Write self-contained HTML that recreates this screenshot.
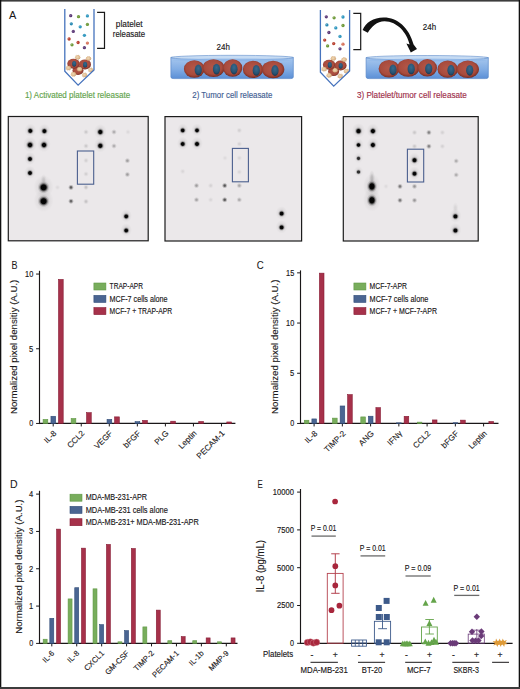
<!DOCTYPE html>
<html><head><meta charset="utf-8"><style>
html,body{margin:0;padding:0;background:#fff;width:520px;height:689px;overflow:hidden}
svg{display:block}
text{font-family:"Liberation Sans",sans-serif}
</style></head><body>
<svg width="520" height="689" viewBox="0 0 520 689">
<rect x="0" y="0" width="520" height="689" fill="#fff"/>
<defs>
<radialGradient id="dotg"><stop offset="0" stop-color="#000" stop-opacity="1"/><stop offset="0.4" stop-color="#000" stop-opacity="0.97"/><stop offset="0.55" stop-color="#000" stop-opacity="0.55"/><stop offset="0.75" stop-color="#000" stop-opacity="0.14"/><stop offset="1" stop-color="#000" stop-opacity="0"/></radialGradient>
<radialGradient id="faintg"><stop offset="0" stop-color="#000" stop-opacity="1"/><stop offset="0.3" stop-color="#000" stop-opacity="0.85"/><stop offset="0.6" stop-color="#000" stop-opacity="0.35"/><stop offset="1" stop-color="#000" stop-opacity="0"/></radialGradient>
<linearGradient id="dishg" x1="0" y1="0" x2="0" y2="1"><stop offset="0" stop-color="#a7c7ee"/><stop offset="0.55" stop-color="#82ade4"/><stop offset="1" stop-color="#5b8fd6"/></linearGradient>
<radialGradient id="cellg" cx="0.48" cy="0.45" r="0.56"><stop offset="0" stop-color="#b35748"/><stop offset="0.7" stop-color="#a84b3d"/><stop offset="0.88" stop-color="#8c392d"/><stop offset="1" stop-color="#6a271e"/></radialGradient>
<radialGradient id="nucg" cx="0.5" cy="0.35" r="0.65"><stop offset="0" stop-color="#386b8e"/><stop offset="0.7" stop-color="#275272"/><stop offset="1" stop-color="#163650"/></radialGradient>
<radialGradient id="pltg" cx="0.45" cy="0.45" r="0.6"><stop offset="0" stop-color="#f0d9b8"/><stop offset="0.6" stop-color="#ddb78a"/><stop offset="1" stop-color="#b08257"/></radialGradient>
</defs>
<rect x="0.00" y="0.00" width="520.00" height="1.60" fill="#3c3c3c" />
<rect x="0.00" y="0.00" width="1.30" height="689.00" fill="#111" />
<rect x="518.70" y="0.00" width="1.30" height="689.00" fill="#111" />
<rect x="0.00" y="687.00" width="520.00" height="2.00" fill="#3c3c3c" />
<text x="9.10" y="19.20" font-size="11.5" fill="#1a1718" stroke="#1a1718" stroke-width="0.05" text-anchor="start" textLength="7.30" lengthAdjust="spacingAndGlyphs" >A</text>
<text x="11.60" y="268.70" font-size="11.5" fill="#1a1718" stroke="#1a1718" stroke-width="0.05" text-anchor="start" textLength="6.00" lengthAdjust="spacingAndGlyphs" >B</text>
<text x="256.70" y="268.70" font-size="11.5" fill="#1a1718" stroke="#1a1718" stroke-width="0.05" text-anchor="start" textLength="7.00" lengthAdjust="spacingAndGlyphs" >C</text>
<text x="10.00" y="487.60" font-size="11.5" fill="#1a1718" stroke="#1a1718" stroke-width="0.05" text-anchor="start" textLength="7.60" lengthAdjust="spacingAndGlyphs" >D</text>
<text x="257.60" y="487.60" font-size="11.5" fill="#1a1718" stroke="#1a1718" stroke-width="0.05" text-anchor="start" textLength="5.30" lengthAdjust="spacingAndGlyphs" >E</text>
<circle cx="70.70" cy="15.70" r="1.65" fill="#5d3a78"/><circle cx="70.30" cy="15.25" r="0.6" fill="#fff" opacity="0.3"/><circle cx="78.50" cy="16.70" r="1.65" fill="#6f9a3a"/><circle cx="78.10" cy="16.25" r="0.6" fill="#fff" opacity="0.3"/><circle cx="87.40" cy="15.90" r="1.65" fill="#2f97bf"/><circle cx="87.00" cy="15.45" r="0.6" fill="#fff" opacity="0.3"/><circle cx="71.30" cy="23.80" r="1.65" fill="#2a8ab3"/><circle cx="70.90" cy="23.35" r="0.6" fill="#fff" opacity="0.3"/><circle cx="80.20" cy="26.80" r="1.65" fill="#2f97bf"/><circle cx="79.80" cy="26.35" r="0.6" fill="#fff" opacity="0.3"/><circle cx="87.40" cy="24.40" r="1.65" fill="#6f9a3a"/><circle cx="87.00" cy="23.95" r="0.6" fill="#fff" opacity="0.3"/><circle cx="73.30" cy="31.40" r="1.65" fill="#5d3a78"/><circle cx="72.90" cy="30.95" r="0.6" fill="#fff" opacity="0.3"/><circle cx="84.40" cy="35.30" r="1.65" fill="#2f97bf"/><circle cx="84.00" cy="34.85" r="0.6" fill="#fff" opacity="0.3"/><circle cx="69.10" cy="39.00" r="1.65" fill="#b8402f"/><circle cx="68.70" cy="38.55" r="0.6" fill="#fff" opacity="0.3"/><circle cx="78.10" cy="42.50" r="1.65" fill="#b8402f"/><circle cx="77.70" cy="42.05" r="0.6" fill="#fff" opacity="0.3"/><circle cx="87.40" cy="43.10" r="1.65" fill="#d7745c"/><circle cx="87.00" cy="42.65" r="0.6" fill="#fff" opacity="0.3"/><circle cx="72.00" cy="44.80" r="1.65" fill="#6f9a3a"/><circle cx="71.60" cy="44.35" r="0.6" fill="#fff" opacity="0.3"/><circle cx="84.40" cy="47.70" r="1.65" fill="#5d3a78"/><circle cx="84.00" cy="47.25" r="0.6" fill="#fff" opacity="0.3"/><ellipse cx="78.00" cy="70.40" rx="5.5" ry="4.5" fill="url(#cellg)"/><ellipse cx="73.50" cy="63.70" rx="6.2" ry="5.0" fill="url(#cellg)"/><ellipse cx="85.00" cy="64.40" rx="6.0" ry="5.0" fill="url(#cellg)"/><ellipse cx="74.20" cy="63.80" rx="2.1" ry="2.9" fill="url(#nucg)"/><ellipse cx="85.10" cy="64.70" rx="2.1" ry="2.9" fill="url(#nucg)"/><polygon points="80.80,57.30 79.89,57.90 80.21,58.85 79.05,58.88 78.66,59.81 77.70,59.25 76.74,59.81 76.35,58.88 75.19,58.85 75.51,57.90 74.60,57.30 75.51,56.70 75.19,55.75 76.35,55.72 76.74,54.79 77.70,55.34 78.66,54.79 79.05,55.72 80.21,55.75 79.89,56.70" fill="url(#pltg)"/><polygon points="91.60,58.50 90.69,59.10 91.01,60.05 89.85,60.08 89.46,61.01 88.50,60.45 87.54,61.01 87.15,60.08 85.99,60.05 86.31,59.10 85.40,58.50 86.31,57.90 85.99,56.95 87.15,56.92 87.54,55.99 88.50,56.55 89.46,55.99 89.85,56.92 91.01,56.95 90.69,57.90" fill="url(#pltg)"/><polygon points="71.60,68.00 70.69,68.60 71.01,69.55 69.85,69.58 69.46,70.51 68.50,69.95 67.54,70.51 67.15,69.58 65.99,69.55 66.31,68.60 65.40,68.00 66.31,67.40 65.99,66.45 67.15,66.42 67.54,65.49 68.50,66.05 69.46,65.49 69.85,66.42 71.01,66.45 70.69,67.40" fill="url(#pltg)"/><polygon points="82.70,69.20 81.79,69.80 82.11,70.75 80.95,70.78 80.56,71.71 79.60,71.16 78.64,71.71 78.25,70.78 77.09,70.75 77.41,69.80 76.50,69.20 77.41,68.60 77.09,67.65 78.25,67.62 78.64,66.69 79.60,67.25 80.56,66.69 80.95,67.62 82.11,67.65 81.79,68.60" fill="url(#pltg)"/><polygon points="93.90,70.00 92.99,70.60 93.31,71.55 92.15,71.58 91.76,72.51 90.80,71.95 89.84,72.51 89.45,71.58 88.29,71.55 88.61,70.60 87.70,70.00 88.61,69.40 88.29,68.45 89.45,68.42 89.84,67.49 90.80,68.05 91.76,67.49 92.15,68.42 93.31,68.45 92.99,69.40" fill="url(#pltg)"/><polygon points="76.60,74.20 75.69,74.80 76.01,75.75 74.85,75.78 74.46,76.71 73.50,76.16 72.54,76.71 72.15,75.78 70.99,75.75 71.31,74.80 70.40,74.20 71.31,73.60 70.99,72.65 72.15,72.62 72.54,71.69 73.50,72.25 74.46,71.69 74.85,72.62 76.01,72.65 75.69,73.60" fill="url(#pltg)"/><polygon points="87.70,75.00 86.79,75.60 87.11,76.55 85.95,76.58 85.56,77.51 84.60,76.95 83.64,77.51 83.25,76.58 82.09,76.55 82.41,75.60 81.50,75.00 82.41,74.40 82.09,73.45 83.25,73.42 83.64,72.49 84.60,73.05 85.56,72.49 85.95,73.42 87.11,73.45 86.79,74.40" fill="url(#pltg)"/><polyline points="64.80,8.90 64.80,71.20 78.10,85.10 94.00,69.90 94.00,8.90" fill="none" stroke="#4673bd" stroke-width="1.3" stroke-linejoin="miter"/>
<circle cx="326.30" cy="16.80" r="1.65" fill="#5d3a78"/><circle cx="325.90" cy="16.35" r="0.6" fill="#fff" opacity="0.3"/><circle cx="334.10" cy="17.80" r="1.65" fill="#6f9a3a"/><circle cx="333.70" cy="17.35" r="0.6" fill="#fff" opacity="0.3"/><circle cx="343.00" cy="17.00" r="1.65" fill="#2f97bf"/><circle cx="342.60" cy="16.55" r="0.6" fill="#fff" opacity="0.3"/><circle cx="326.90" cy="24.90" r="1.65" fill="#2a8ab3"/><circle cx="326.50" cy="24.45" r="0.6" fill="#fff" opacity="0.3"/><circle cx="335.80" cy="27.90" r="1.65" fill="#2f97bf"/><circle cx="335.40" cy="27.45" r="0.6" fill="#fff" opacity="0.3"/><circle cx="343.00" cy="25.50" r="1.65" fill="#6f9a3a"/><circle cx="342.60" cy="25.05" r="0.6" fill="#fff" opacity="0.3"/><circle cx="328.90" cy="32.50" r="1.65" fill="#5d3a78"/><circle cx="328.50" cy="32.05" r="0.6" fill="#fff" opacity="0.3"/><circle cx="340.00" cy="36.40" r="1.65" fill="#2f97bf"/><circle cx="339.60" cy="35.95" r="0.6" fill="#fff" opacity="0.3"/><circle cx="324.70" cy="40.10" r="1.65" fill="#b8402f"/><circle cx="324.30" cy="39.65" r="0.6" fill="#fff" opacity="0.3"/><circle cx="333.70" cy="43.60" r="1.65" fill="#b8402f"/><circle cx="333.30" cy="43.15" r="0.6" fill="#fff" opacity="0.3"/><circle cx="343.00" cy="44.20" r="1.65" fill="#d7745c"/><circle cx="342.60" cy="43.75" r="0.6" fill="#fff" opacity="0.3"/><circle cx="327.60" cy="45.90" r="1.65" fill="#6f9a3a"/><circle cx="327.20" cy="45.45" r="0.6" fill="#fff" opacity="0.3"/><circle cx="340.00" cy="48.80" r="1.65" fill="#5d3a78"/><circle cx="339.60" cy="48.35" r="0.6" fill="#fff" opacity="0.3"/><ellipse cx="333.60" cy="71.50" rx="5.5" ry="4.5" fill="url(#cellg)"/><ellipse cx="329.10" cy="64.80" rx="6.2" ry="5.0" fill="url(#cellg)"/><ellipse cx="340.60" cy="65.50" rx="6.0" ry="5.0" fill="url(#cellg)"/><ellipse cx="329.80" cy="64.90" rx="2.1" ry="2.9" fill="url(#nucg)"/><ellipse cx="340.70" cy="65.80" rx="2.1" ry="2.9" fill="url(#nucg)"/><polygon points="336.40,58.40 335.49,59.00 335.81,59.95 334.65,59.98 334.26,60.91 333.30,60.35 332.34,60.91 331.95,59.98 330.79,59.95 331.11,59.00 330.20,58.40 331.11,57.80 330.79,56.85 331.95,56.82 332.34,55.89 333.30,56.45 334.26,55.89 334.65,56.82 335.81,56.85 335.49,57.80" fill="url(#pltg)"/><polygon points="347.20,59.60 346.29,60.20 346.61,61.15 345.45,61.18 345.06,62.11 344.10,61.55 343.14,62.11 342.75,61.18 341.59,61.15 341.91,60.20 341.00,59.60 341.91,59.00 341.59,58.05 342.75,58.02 343.14,57.09 344.10,57.65 345.06,57.09 345.45,58.02 346.61,58.05 346.29,59.00" fill="url(#pltg)"/><polygon points="327.20,69.10 326.29,69.70 326.61,70.65 325.45,70.68 325.06,71.61 324.10,71.05 323.14,71.61 322.75,70.68 321.59,70.65 321.91,69.70 321.00,69.10 321.91,68.50 321.59,67.55 322.75,67.52 323.14,66.59 324.10,67.14 325.06,66.59 325.45,67.52 326.61,67.55 326.29,68.50" fill="url(#pltg)"/><polygon points="338.30,70.30 337.39,70.90 337.71,71.85 336.55,71.88 336.16,72.81 335.20,72.25 334.24,72.81 333.85,71.88 332.69,71.85 333.01,70.90 332.10,70.30 333.01,69.70 332.69,68.75 333.85,68.72 334.24,67.79 335.20,68.34 336.16,67.79 336.55,68.72 337.71,68.75 337.39,69.70" fill="url(#pltg)"/><polygon points="349.50,71.10 348.59,71.70 348.91,72.65 347.75,72.68 347.36,73.61 346.40,73.05 345.44,73.61 345.05,72.68 343.89,72.65 344.21,71.70 343.30,71.10 344.21,70.50 343.89,69.55 345.05,69.52 345.44,68.59 346.40,69.14 347.36,68.59 347.75,69.52 348.91,69.55 348.59,70.50" fill="url(#pltg)"/><polygon points="332.20,75.30 331.29,75.90 331.61,76.85 330.45,76.88 330.06,77.81 329.10,77.25 328.14,77.81 327.75,76.88 326.59,76.85 326.91,75.90 326.00,75.30 326.91,74.70 326.59,73.75 327.75,73.72 328.14,72.79 329.10,73.34 330.06,72.79 330.45,73.72 331.61,73.75 331.29,74.70" fill="url(#pltg)"/><polygon points="343.30,76.10 342.39,76.70 342.71,77.65 341.55,77.68 341.16,78.61 340.20,78.05 339.24,78.61 338.85,77.68 337.69,77.65 338.01,76.70 337.10,76.10 338.01,75.50 337.69,74.55 338.85,74.52 339.24,73.59 340.20,74.14 341.16,73.59 341.55,74.52 342.71,74.55 342.39,75.50" fill="url(#pltg)"/><polyline points="320.40,10.00 320.40,72.30 333.70,86.20 349.60,71.00 349.60,10.00" fill="none" stroke="#4673bd" stroke-width="1.3" stroke-linejoin="miter"/>
<polyline points="97.10,12.40 104.50,12.40 104.50,48.40 97.10,48.40" fill="none" stroke="#1a1a1a" stroke-width="1.2"/>
<polyline points="353.30,13.30 360.70,13.30 360.70,49.70 353.30,49.70" fill="none" stroke="#1a1a1a" stroke-width="1.2"/>
<text x="129.20" y="26.90" font-size="9.4" fill="#1a1718" stroke="#1a1718" stroke-width="0.15" text-anchor="middle" textLength="26.70" lengthAdjust="spacingAndGlyphs" >platelet</text>
<text x="129.00" y="36.50" font-size="9.4" fill="#1a1718" stroke="#1a1718" stroke-width="0.15" text-anchor="middle" textLength="32.30" lengthAdjust="spacingAndGlyphs" >releasate</text>
<path d="M170.90,57.40 L170.90,77.00 Q170.90,78.60 173.90,78.60 L290.30,78.60 Q293.30,78.60 293.30,77.00 L293.30,57.40 Z" fill="url(#dishg)" stroke="#5a88c8" stroke-width="0.7"/><ellipse cx="232.10" cy="57.60" rx="61.20" ry="2.3" fill="#c6dbf3" stroke="#5f8dcb" stroke-width="0.6"/><ellipse cx="232.10" cy="60.00" rx="59.20" ry="1.6" fill="#8fb6e8" opacity="0.7"/><ellipse cx="194.30" cy="69.00" rx="10.4" ry="8.8" fill="url(#cellg)"/><ellipse cx="198.30" cy="70.00" rx="3.6" ry="5.4" fill="url(#nucg)"/><ellipse cx="213.50" cy="68.10" rx="11.0" ry="8.9" fill="url(#cellg)"/><ellipse cx="216.50" cy="69.10" rx="3.6" ry="5.4" fill="url(#nucg)"/><ellipse cx="232.60" cy="68.00" rx="9.7" ry="8.7" fill="url(#cellg)"/><ellipse cx="234.00" cy="69.00" rx="3.6" ry="5.4" fill="url(#nucg)"/><ellipse cx="253.00" cy="69.40" rx="10.2" ry="8.6" fill="url(#cellg)"/><ellipse cx="256.30" cy="70.40" rx="3.6" ry="5.4" fill="url(#nucg)"/><ellipse cx="273.10" cy="69.50" rx="11.2" ry="8.7" fill="url(#cellg)"/><ellipse cx="275.00" cy="70.50" rx="3.6" ry="5.4" fill="url(#nucg)"/>
<path d="M366.10,57.60 L366.10,77.00 Q366.10,78.60 369.10,78.60 L485.30,78.60 Q488.30,78.60 488.30,77.00 L488.30,57.60 Z" fill="url(#dishg)" stroke="#5a88c8" stroke-width="0.7"/><ellipse cx="427.20" cy="57.80" rx="61.10" ry="2.3" fill="#c6dbf3" stroke="#5f8dcb" stroke-width="0.6"/><ellipse cx="427.20" cy="60.20" rx="59.10" ry="1.6" fill="#8fb6e8" opacity="0.7"/><ellipse cx="389.00" cy="68.80" rx="10.4" ry="8.8" fill="url(#cellg)"/><ellipse cx="393.00" cy="69.80" rx="3.6" ry="5.4" fill="url(#nucg)"/><ellipse cx="408.20" cy="67.90" rx="11.0" ry="8.9" fill="url(#cellg)"/><ellipse cx="411.20" cy="68.90" rx="3.6" ry="5.4" fill="url(#nucg)"/><ellipse cx="427.30" cy="67.80" rx="9.7" ry="8.7" fill="url(#cellg)"/><ellipse cx="428.70" cy="68.80" rx="3.6" ry="5.4" fill="url(#nucg)"/><ellipse cx="447.70" cy="69.20" rx="10.2" ry="8.6" fill="url(#cellg)"/><ellipse cx="451.00" cy="70.20" rx="3.6" ry="5.4" fill="url(#nucg)"/><ellipse cx="467.80" cy="69.30" rx="11.2" ry="8.7" fill="url(#cellg)"/><ellipse cx="469.70" cy="70.30" rx="3.6" ry="5.4" fill="url(#nucg)"/>
<text x="223.20" y="49.80" font-size="8.6" fill="#1a1718" stroke="#1a1718" stroke-width="0.15" text-anchor="middle" textLength="13.30" lengthAdjust="spacingAndGlyphs" >24h</text>
<text x="429.50" y="29.80" font-size="8.6" fill="#1a1718" stroke="#1a1718" stroke-width="0.15" text-anchor="middle" textLength="13.30" lengthAdjust="spacingAndGlyphs" >24h</text>
<path d="M362.6,30.0 C365.5,22.5 373.5,17.6 383.5,17.4 C397,17.2 409,27 413.6,44.6 L417.0,49.0 L410.8,52.4 L406.4,43.6 L409.6,44.4 C407,33 397.5,21.3 384.5,21.2 C377,21.2 371.5,26.5 367.8,32.8 Z" fill="#111"/>
<text x="24.90" y="97.90" font-size="8.2" fill="#63a44c" stroke="#63a44c" stroke-width="0.15" text-anchor="start" textLength="105.30" lengthAdjust="spacingAndGlyphs" >1) Activated platelet releasate</text>
<text x="192.30" y="97.90" font-size="8.2" fill="#3f5d92" stroke="#3f5d92" stroke-width="0.15" text-anchor="start" textLength="80.00" lengthAdjust="spacingAndGlyphs" >2) Tumor cell releasate</text>
<text x="356.90" y="97.90" font-size="8.2" fill="#a0304a" stroke="#a0304a" stroke-width="0.15" text-anchor="start" textLength="109.90" lengthAdjust="spacingAndGlyphs" >3) Platelet/tumor cell releasate</text>
<rect x="8.30" y="116.50" width="139.90" height="124.30" fill="#ebe8ea" stroke="#1c1c1c" stroke-width="1.2"/>
<ellipse cx="30.30" cy="130.30" rx="5.95" ry="6.83" fill="url(#faintg)" opacity="0.13"/>
<ellipse cx="30.30" cy="130.90" rx="3.68" ry="3.68" fill="url(#dotg)" opacity="1.00"/>
<ellipse cx="44.40" cy="130.50" rx="5.95" ry="6.83" fill="url(#faintg)" opacity="0.13"/>
<ellipse cx="44.40" cy="131.10" rx="3.68" ry="3.68" fill="url(#dotg)" opacity="1.00"/>
<ellipse cx="30.00" cy="144.40" rx="6.97" ry="7.99" fill="url(#faintg)" opacity="0.13"/>
<ellipse cx="30.00" cy="145.00" rx="4.30" ry="4.30" fill="url(#dotg)" opacity="1.00"/>
<ellipse cx="44.00" cy="144.40" rx="6.80" ry="7.80" fill="url(#faintg)" opacity="0.13"/>
<ellipse cx="44.00" cy="145.00" rx="4.20" ry="4.20" fill="url(#dotg)" opacity="1.00"/>
<ellipse cx="30.00" cy="158.40" rx="5.78" ry="6.63" fill="url(#faintg)" opacity="0.13"/>
<ellipse cx="30.00" cy="159.00" rx="3.57" ry="3.57" fill="url(#dotg)" opacity="1.00"/>
<ellipse cx="30.00" cy="172.40" rx="5.78" ry="6.63" fill="url(#faintg)" opacity="0.13"/>
<ellipse cx="30.00" cy="173.00" rx="3.57" ry="3.57" fill="url(#dotg)" opacity="1.00"/>
<ellipse cx="43.60" cy="186.80" rx="10.03" ry="11.51" fill="url(#faintg)" opacity="0.13"/>
<ellipse cx="43.60" cy="187.40" rx="6.20" ry="6.20" fill="url(#dotg)" opacity="1.00"/>
<ellipse cx="43.60" cy="200.60" rx="10.03" ry="11.51" fill="url(#faintg)" opacity="0.13"/>
<ellipse cx="43.60" cy="201.20" rx="6.20" ry="6.20" fill="url(#dotg)" opacity="1.00"/>
<ellipse cx="100.30" cy="131.40" rx="6.46" ry="7.41" fill="url(#faintg)" opacity="0.13"/>
<ellipse cx="100.30" cy="132.00" rx="3.99" ry="3.99" fill="url(#dotg)" opacity="1.00"/>
<ellipse cx="100.30" cy="145.20" rx="6.46" ry="7.41" fill="url(#faintg)" opacity="0.13"/>
<ellipse cx="100.30" cy="145.80" rx="3.99" ry="3.99" fill="url(#dotg)" opacity="1.00"/>
<ellipse cx="126.20" cy="215.80" rx="5.78" ry="6.63" fill="url(#faintg)" opacity="0.13"/>
<ellipse cx="126.20" cy="216.40" rx="3.57" ry="3.57" fill="url(#dotg)" opacity="1.00"/>
<ellipse cx="126.20" cy="229.90" rx="5.78" ry="6.63" fill="url(#faintg)" opacity="0.13"/>
<ellipse cx="126.20" cy="230.50" rx="3.57" ry="3.57" fill="url(#dotg)" opacity="1.00"/>
<circle cx="71.00" cy="187.40" r="2.9" fill="url(#faintg)" opacity="0.66"/>
<circle cx="71.00" cy="201.20" r="2.9" fill="url(#faintg)" opacity="0.62"/>
<circle cx="86.00" cy="132.00" r="2.9" fill="url(#faintg)" opacity="0.14"/>
<circle cx="86.00" cy="146.00" r="2.9" fill="url(#faintg)" opacity="0.14"/>
<circle cx="114.00" cy="132.00" r="2.9" fill="url(#faintg)" opacity="0.27"/>
<circle cx="114.00" cy="146.00" r="2.9" fill="url(#faintg)" opacity="0.27"/>
<circle cx="86.00" cy="160.50" r="2.9" fill="url(#faintg)" opacity="0.11"/>
<circle cx="86.00" cy="174.00" r="2.9" fill="url(#faintg)" opacity="0.11"/>
<circle cx="127.40" cy="160.70" r="2.9" fill="url(#faintg)" opacity="0.33"/>
<circle cx="127.40" cy="174.50" r="2.9" fill="url(#faintg)" opacity="0.33"/>
<circle cx="86.00" cy="187.30" r="2.9" fill="url(#faintg)" opacity="0.17"/>
<circle cx="86.00" cy="201.50" r="2.9" fill="url(#faintg)" opacity="0.17"/>
<circle cx="128.00" cy="132.00" r="2.9" fill="url(#faintg)" opacity="0.07"/>
<circle cx="57.50" cy="187.40" r="2.9" fill="url(#faintg)" opacity="0.06"/>
<rect x="77.40" y="151.00" width="16.30" height="33.20" fill="none" stroke="#4b5f8e" stroke-width="1.1"/>
<rect x="165.00" y="116.60" width="136.60" height="124.40" fill="#ebe8ea" stroke="#1c1c1c" stroke-width="1.2"/>
<ellipse cx="182.70" cy="129.80" rx="5.61" ry="6.43" fill="url(#faintg)" opacity="0.13"/>
<ellipse cx="182.70" cy="130.40" rx="3.46" ry="3.46" fill="url(#dotg)" opacity="1.00"/>
<ellipse cx="197.00" cy="129.80" rx="5.61" ry="6.43" fill="url(#faintg)" opacity="0.13"/>
<ellipse cx="197.00" cy="130.40" rx="3.46" ry="3.46" fill="url(#dotg)" opacity="1.00"/>
<ellipse cx="182.70" cy="143.40" rx="5.78" ry="6.63" fill="url(#faintg)" opacity="0.13"/>
<ellipse cx="182.70" cy="144.00" rx="3.57" ry="3.57" fill="url(#dotg)" opacity="1.00"/>
<ellipse cx="197.00" cy="143.40" rx="5.95" ry="6.83" fill="url(#faintg)" opacity="0.13"/>
<ellipse cx="197.00" cy="144.00" rx="3.68" ry="3.68" fill="url(#dotg)" opacity="1.00"/>
<ellipse cx="281.60" cy="213.00" rx="5.95" ry="6.83" fill="url(#faintg)" opacity="0.13"/>
<ellipse cx="281.60" cy="213.60" rx="3.68" ry="3.68" fill="url(#dotg)" opacity="1.00"/>
<ellipse cx="281.60" cy="226.80" rx="5.95" ry="6.83" fill="url(#faintg)" opacity="0.13"/>
<ellipse cx="281.60" cy="227.40" rx="3.68" ry="3.68" fill="url(#dotg)" opacity="1.00"/>
<circle cx="224.70" cy="185.60" r="2.9" fill="url(#faintg)" opacity="0.66"/>
<circle cx="224.70" cy="199.80" r="2.9" fill="url(#faintg)" opacity="0.66"/>
<circle cx="196.50" cy="185.60" r="2.9" fill="url(#faintg)" opacity="0.33"/>
<circle cx="196.50" cy="199.80" r="2.9" fill="url(#faintg)" opacity="0.31"/>
<circle cx="239.30" cy="185.60" r="2.9" fill="url(#faintg)" opacity="0.28"/>
<circle cx="239.30" cy="199.80" r="2.9" fill="url(#faintg)" opacity="0.28"/>
<circle cx="210.70" cy="185.60" r="2.9" fill="url(#faintg)" opacity="0.10"/>
<circle cx="210.70" cy="199.80" r="2.9" fill="url(#faintg)" opacity="0.08"/>
<circle cx="239.30" cy="130.40" r="2.9" fill="url(#faintg)" opacity="0.11"/>
<circle cx="239.30" cy="144.00" r="2.9" fill="url(#faintg)" opacity="0.10"/>
<circle cx="239.30" cy="158.00" r="2.9" fill="url(#faintg)" opacity="0.08"/>
<circle cx="239.30" cy="172.00" r="2.9" fill="url(#faintg)" opacity="0.08"/>
<circle cx="225.00" cy="158.00" r="2.9" fill="url(#faintg)" opacity="0.06"/>
<circle cx="182.70" cy="171.40" r="2.9" fill="url(#faintg)" opacity="0.08"/>
<rect x="232.40" y="148.40" width="16.00" height="33.40" fill="none" stroke="#4b5f8e" stroke-width="1.1"/>
<rect x="343.30" y="116.60" width="134.90" height="124.40" fill="#ebe8ea" stroke="#1c1c1c" stroke-width="1.2"/>
<ellipse cx="371.9" cy="178" rx="3.2" ry="8.0" fill="url(#faintg)" opacity="0.18"/>
<ellipse cx="43.6" cy="180" rx="3.2" ry="6.0" fill="url(#faintg)" opacity="0.12"/>
<ellipse cx="455.4" cy="208" rx="3.2" ry="6.0" fill="url(#faintg)" opacity="0.08"/>
<ellipse cx="358.50" cy="130.50" rx="6.63" ry="7.60" fill="url(#faintg)" opacity="0.13"/>
<ellipse cx="358.50" cy="131.10" rx="4.09" ry="4.09" fill="url(#dotg)" opacity="1.00"/>
<ellipse cx="372.90" cy="130.50" rx="6.29" ry="7.21" fill="url(#faintg)" opacity="0.13"/>
<ellipse cx="372.90" cy="131.10" rx="3.89" ry="3.89" fill="url(#dotg)" opacity="1.00"/>
<ellipse cx="358.50" cy="144.40" rx="5.27" ry="6.04" fill="url(#faintg)" opacity="0.13"/>
<ellipse cx="358.50" cy="145.00" rx="3.26" ry="3.26" fill="url(#dotg)" opacity="1.00"/>
<ellipse cx="372.90" cy="144.40" rx="6.12" ry="7.02" fill="url(#faintg)" opacity="0.13"/>
<ellipse cx="372.90" cy="145.00" rx="3.78" ry="3.78" fill="url(#dotg)" opacity="1.00"/>
<ellipse cx="358.50" cy="157.80" rx="4.76" ry="5.46" fill="url(#faintg)" opacity="0.10"/>
<ellipse cx="358.50" cy="158.40" rx="2.94" ry="2.94" fill="url(#dotg)" opacity="0.80"/>
<ellipse cx="358.50" cy="171.40" rx="4.76" ry="5.46" fill="url(#faintg)" opacity="0.10"/>
<ellipse cx="358.50" cy="172.00" rx="2.94" ry="2.94" fill="url(#dotg)" opacity="0.80"/>
<ellipse cx="371.90" cy="185.80" rx="8.84" ry="12.09" fill="url(#faintg)" opacity="0.13"/>
<ellipse cx="371.90" cy="186.40" rx="5.46" ry="6.51" fill="url(#dotg)" opacity="1.00"/>
<ellipse cx="371.90" cy="199.70" rx="8.84" ry="12.09" fill="url(#faintg)" opacity="0.13"/>
<ellipse cx="371.90" cy="200.30" rx="5.46" ry="6.51" fill="url(#dotg)" opacity="1.00"/>
<ellipse cx="414.50" cy="159.60" rx="6.12" ry="7.02" fill="url(#faintg)" opacity="0.13"/>
<ellipse cx="414.50" cy="160.20" rx="3.78" ry="3.78" fill="url(#dotg)" opacity="1.00"/>
<ellipse cx="414.50" cy="173.10" rx="5.95" ry="6.83" fill="url(#faintg)" opacity="0.13"/>
<ellipse cx="414.50" cy="173.70" rx="3.68" ry="3.68" fill="url(#dotg)" opacity="1.00"/>
<ellipse cx="455.40" cy="215.80" rx="6.12" ry="7.02" fill="url(#faintg)" opacity="0.13"/>
<ellipse cx="455.40" cy="216.40" rx="3.78" ry="3.78" fill="url(#dotg)" opacity="1.00"/>
<ellipse cx="455.40" cy="229.90" rx="6.12" ry="7.02" fill="url(#faintg)" opacity="0.13"/>
<ellipse cx="455.40" cy="230.50" rx="3.78" ry="3.78" fill="url(#dotg)" opacity="1.00"/>
<circle cx="428.90" cy="132.50" r="2.9" fill="url(#faintg)" opacity="0.47"/>
<circle cx="428.90" cy="146.30" r="2.9" fill="url(#faintg)" opacity="0.47"/>
<circle cx="400.00" cy="186.40" r="2.9" fill="url(#faintg)" opacity="0.52"/>
<circle cx="400.00" cy="200.30" r="2.9" fill="url(#faintg)" opacity="0.52"/>
<circle cx="414.50" cy="186.40" r="2.9" fill="url(#faintg)" opacity="0.36"/>
<circle cx="414.50" cy="200.30" r="2.9" fill="url(#faintg)" opacity="0.36"/>
<circle cx="456.20" cy="161.00" r="2.9" fill="url(#faintg)" opacity="0.27"/>
<circle cx="456.20" cy="174.90" r="2.9" fill="url(#faintg)" opacity="0.27"/>
<circle cx="414.50" cy="132.50" r="2.9" fill="url(#faintg)" opacity="0.14"/>
<circle cx="414.50" cy="146.30" r="2.9" fill="url(#faintg)" opacity="0.14"/>
<circle cx="442.40" cy="132.50" r="2.9" fill="url(#faintg)" opacity="0.10"/>
<circle cx="442.40" cy="146.30" r="2.9" fill="url(#faintg)" opacity="0.10"/>
<circle cx="386.00" cy="186.40" r="2.9" fill="url(#faintg)" opacity="0.06"/>
<rect x="407.40" y="149.20" width="16.30" height="32.80" fill="none" stroke="#4b5f8e" stroke-width="1.1"/>
<line x1="39.50" y1="270.80" x2="39.50" y2="424.05" stroke="#1a1718" stroke-width="1.15" />
<line x1="39.00" y1="423.45" x2="235.40" y2="423.45" stroke="#1a1718" stroke-width="1.25" />
<line x1="36.10" y1="274.05" x2="39.50" y2="274.05" stroke="#1a1718" stroke-width="1.0" />
<text x="33.30" y="276.95" font-size="8.2" fill="#1a1718" stroke="#1a1718" stroke-width="0.15" text-anchor="end" textLength="8.20" lengthAdjust="spacingAndGlyphs" >10</text>
<line x1="36.10" y1="348.75" x2="39.50" y2="348.75" stroke="#1a1718" stroke-width="1.0" />
<text x="33.30" y="351.65" font-size="8.2" fill="#1a1718" stroke="#1a1718" stroke-width="0.15" text-anchor="end" textLength="4.20" lengthAdjust="spacingAndGlyphs" >5</text>
<line x1="36.10" y1="423.45" x2="39.50" y2="423.45" stroke="#1a1718" stroke-width="1.0" />
<text x="33.30" y="426.35" font-size="8.2" fill="#1a1718" stroke="#1a1718" stroke-width="0.15" text-anchor="end" textLength="4.00" lengthAdjust="spacingAndGlyphs" >0</text>
<line x1="53.20" y1="423.45" x2="53.20" y2="426.45" stroke="#1a1718" stroke-width="1.0" />
<line x1="81.25" y1="423.45" x2="81.25" y2="426.45" stroke="#1a1718" stroke-width="1.0" />
<line x1="109.30" y1="423.45" x2="109.30" y2="426.45" stroke="#1a1718" stroke-width="1.0" />
<line x1="137.35" y1="423.45" x2="137.35" y2="426.45" stroke="#1a1718" stroke-width="1.0" />
<line x1="165.40" y1="423.45" x2="165.40" y2="426.45" stroke="#1a1718" stroke-width="1.0" />
<line x1="193.45" y1="423.45" x2="193.45" y2="426.45" stroke="#1a1718" stroke-width="1.0" />
<line x1="221.50" y1="423.45" x2="221.50" y2="426.45" stroke="#1a1718" stroke-width="1.0" />
<rect x="43.10" y="419.42" width="4.70" height="4.03" fill="#78ad5c" stroke="#5f9845" stroke-width="0.6"/>
<rect x="50.95" y="416.28" width="4.70" height="7.17" fill="#4a6592" stroke="#2f4b77" stroke-width="0.6"/>
<rect x="58.50" y="279.43" width="4.70" height="144.02" fill="#a6314a" stroke="#861c34" stroke-width="0.6"/>
<rect x="71.15" y="418.52" width="4.70" height="4.93" fill="#78ad5c" stroke="#5f9845" stroke-width="0.6"/>
<rect x="86.55" y="412.69" width="4.70" height="10.76" fill="#a6314a" stroke="#861c34" stroke-width="0.6"/>
<rect x="107.05" y="419.42" width="4.70" height="4.03" fill="#4a6592" stroke="#2f4b77" stroke-width="0.6"/>
<rect x="114.60" y="416.88" width="4.70" height="6.57" fill="#a6314a" stroke="#861c34" stroke-width="0.6"/>
<rect x="135.10" y="421.66" width="4.70" height="1.79" fill="#4a6592" stroke="#2f4b77" stroke-width="0.6"/>
<rect x="142.65" y="420.46" width="4.70" height="2.99" fill="#a6314a" stroke="#861c34" stroke-width="0.6"/>
<rect x="170.70" y="421.21" width="4.70" height="2.24" fill="#a6314a" stroke="#861c34" stroke-width="0.6"/>
<rect x="198.75" y="421.51" width="4.70" height="1.94" fill="#a6314a" stroke="#861c34" stroke-width="0.6"/>
<rect x="226.80" y="421.96" width="4.70" height="1.49" fill="#a6314a" stroke="#861c34" stroke-width="0.6"/>
<line x1="300.50" y1="270.40" x2="300.50" y2="424.05" stroke="#1a1718" stroke-width="1.15" />
<line x1="300.00" y1="423.45" x2="498.50" y2="423.45" stroke="#1a1718" stroke-width="1.25" />
<line x1="297.10" y1="272.85" x2="300.50" y2="272.85" stroke="#1a1718" stroke-width="1.0" />
<text x="294.30" y="275.75" font-size="8.2" fill="#1a1718" stroke="#1a1718" stroke-width="0.15" text-anchor="end" textLength="8.20" lengthAdjust="spacingAndGlyphs" >15</text>
<line x1="297.10" y1="323.05" x2="300.50" y2="323.05" stroke="#1a1718" stroke-width="1.0" />
<text x="294.30" y="325.95" font-size="8.2" fill="#1a1718" stroke="#1a1718" stroke-width="0.15" text-anchor="end" textLength="8.20" lengthAdjust="spacingAndGlyphs" >10</text>
<line x1="297.10" y1="373.25" x2="300.50" y2="373.25" stroke="#1a1718" stroke-width="1.0" />
<text x="294.30" y="376.15" font-size="8.2" fill="#1a1718" stroke="#1a1718" stroke-width="0.15" text-anchor="end" textLength="4.20" lengthAdjust="spacingAndGlyphs" >5</text>
<line x1="297.10" y1="423.45" x2="300.50" y2="423.45" stroke="#1a1718" stroke-width="1.0" />
<text x="294.30" y="426.35" font-size="8.2" fill="#1a1718" stroke="#1a1718" stroke-width="0.15" text-anchor="end" textLength="4.00" lengthAdjust="spacingAndGlyphs" >0</text>
<line x1="314.10" y1="423.45" x2="314.10" y2="426.45" stroke="#1a1718" stroke-width="1.0" />
<line x1="342.35" y1="423.45" x2="342.35" y2="426.45" stroke="#1a1718" stroke-width="1.0" />
<line x1="370.60" y1="423.45" x2="370.60" y2="426.45" stroke="#1a1718" stroke-width="1.0" />
<line x1="398.85" y1="423.45" x2="398.85" y2="426.45" stroke="#1a1718" stroke-width="1.0" />
<line x1="427.10" y1="423.45" x2="427.10" y2="426.45" stroke="#1a1718" stroke-width="1.0" />
<line x1="455.35" y1="423.45" x2="455.35" y2="426.45" stroke="#1a1718" stroke-width="1.0" />
<line x1="483.60" y1="423.45" x2="483.60" y2="426.45" stroke="#1a1718" stroke-width="1.0" />
<rect x="304.30" y="420.24" width="4.60" height="3.21" fill="#78ad5c" stroke="#5f9845" stroke-width="0.6"/>
<rect x="311.90" y="418.93" width="4.60" height="4.52" fill="#4a6592" stroke="#2f4b77" stroke-width="0.6"/>
<rect x="319.40" y="273.15" width="4.60" height="150.30" fill="#a6314a" stroke="#861c34" stroke-width="0.6"/>
<rect x="332.55" y="418.13" width="4.60" height="5.32" fill="#78ad5c" stroke="#5f9845" stroke-width="0.6"/>
<rect x="340.15" y="405.98" width="4.60" height="17.47" fill="#4a6592" stroke="#2f4b77" stroke-width="0.6"/>
<rect x="347.65" y="394.63" width="4.60" height="28.82" fill="#a6314a" stroke="#861c34" stroke-width="0.6"/>
<rect x="360.80" y="416.92" width="4.60" height="6.53" fill="#78ad5c" stroke="#5f9845" stroke-width="0.6"/>
<rect x="368.40" y="416.22" width="4.60" height="7.23" fill="#4a6592" stroke="#2f4b77" stroke-width="0.6"/>
<rect x="375.90" y="407.69" width="4.60" height="15.76" fill="#a6314a" stroke="#861c34" stroke-width="0.6"/>
<rect x="396.65" y="422.85" width="4.60" height="0.60" fill="#4a6592" stroke="#2f4b77" stroke-width="0.6"/>
<rect x="404.15" y="416.32" width="4.60" height="7.13" fill="#a6314a" stroke="#861c34" stroke-width="0.6"/>
<rect x="417.30" y="422.14" width="4.60" height="1.31" fill="#78ad5c" stroke="#5f9845" stroke-width="0.6"/>
<rect x="432.40" y="419.93" width="4.60" height="3.52" fill="#a6314a" stroke="#861c34" stroke-width="0.6"/>
<rect x="453.15" y="422.75" width="4.60" height="0.70" fill="#4a6592" stroke="#2f4b77" stroke-width="0.6"/>
<rect x="460.65" y="420.14" width="4.60" height="3.31" fill="#a6314a" stroke="#861c34" stroke-width="0.6"/>
<rect x="488.90" y="421.54" width="4.60" height="1.91" fill="#a6314a" stroke="#861c34" stroke-width="0.6"/>
<line x1="39.50" y1="490.80" x2="39.50" y2="644.00" stroke="#1a1718" stroke-width="1.15" />
<line x1="39.00" y1="643.40" x2="237.50" y2="643.40" stroke="#1a1718" stroke-width="1.25" />
<line x1="36.10" y1="494.12" x2="39.50" y2="494.12" stroke="#1a1718" stroke-width="1.0" />
<text x="33.30" y="497.02" font-size="8.2" fill="#1a1718" stroke="#1a1718" stroke-width="0.15" text-anchor="end" textLength="4.20" lengthAdjust="spacingAndGlyphs" >4</text>
<line x1="36.10" y1="531.44" x2="39.50" y2="531.44" stroke="#1a1718" stroke-width="1.0" />
<text x="33.30" y="534.34" font-size="8.2" fill="#1a1718" stroke="#1a1718" stroke-width="0.15" text-anchor="end" textLength="4.20" lengthAdjust="spacingAndGlyphs" >3</text>
<line x1="36.10" y1="568.76" x2="39.50" y2="568.76" stroke="#1a1718" stroke-width="1.0" />
<text x="33.30" y="571.66" font-size="8.2" fill="#1a1718" stroke="#1a1718" stroke-width="0.15" text-anchor="end" textLength="4.20" lengthAdjust="spacingAndGlyphs" >2</text>
<line x1="36.10" y1="606.08" x2="39.50" y2="606.08" stroke="#1a1718" stroke-width="1.0" />
<text x="33.30" y="608.98" font-size="8.2" fill="#1a1718" stroke="#1a1718" stroke-width="0.15" text-anchor="end" textLength="4.20" lengthAdjust="spacingAndGlyphs" >1</text>
<line x1="36.10" y1="643.40" x2="39.50" y2="643.40" stroke="#1a1718" stroke-width="1.0" />
<text x="33.30" y="646.30" font-size="8.2" fill="#1a1718" stroke="#1a1718" stroke-width="0.15" text-anchor="end" textLength="4.00" lengthAdjust="spacingAndGlyphs" >0</text>
<line x1="51.80" y1="643.40" x2="51.80" y2="646.40" stroke="#1a1718" stroke-width="1.0" />
<line x1="76.73" y1="643.40" x2="76.73" y2="646.40" stroke="#1a1718" stroke-width="1.0" />
<line x1="101.66" y1="643.40" x2="101.66" y2="646.40" stroke="#1a1718" stroke-width="1.0" />
<line x1="126.59" y1="643.40" x2="126.59" y2="646.40" stroke="#1a1718" stroke-width="1.0" />
<line x1="151.52" y1="643.40" x2="151.52" y2="646.40" stroke="#1a1718" stroke-width="1.0" />
<line x1="176.45" y1="643.40" x2="176.45" y2="646.40" stroke="#1a1718" stroke-width="1.0" />
<line x1="201.38" y1="643.40" x2="201.38" y2="646.40" stroke="#1a1718" stroke-width="1.0" />
<line x1="226.31" y1="643.40" x2="226.31" y2="646.40" stroke="#1a1718" stroke-width="1.0" />
<rect x="43.17" y="639.22" width="3.95" height="4.18" fill="#78ad5c" stroke="#5f9845" stroke-width="0.6"/>
<rect x="49.82" y="618.32" width="3.95" height="25.08" fill="#4a6592" stroke="#2f4b77" stroke-width="0.6"/>
<rect x="56.57" y="529.13" width="3.95" height="114.27" fill="#a6314a" stroke="#861c34" stroke-width="0.6"/>
<rect x="68.10" y="598.92" width="3.95" height="44.48" fill="#78ad5c" stroke="#5f9845" stroke-width="0.6"/>
<rect x="74.75" y="587.72" width="3.95" height="55.68" fill="#4a6592" stroke="#2f4b77" stroke-width="0.6"/>
<rect x="81.50" y="548.16" width="3.95" height="95.24" fill="#a6314a" stroke="#861c34" stroke-width="0.6"/>
<rect x="93.03" y="588.84" width="3.95" height="54.56" fill="#78ad5c" stroke="#5f9845" stroke-width="0.6"/>
<rect x="99.68" y="624.67" width="3.95" height="18.73" fill="#4a6592" stroke="#2f4b77" stroke-width="0.6"/>
<rect x="106.43" y="544.43" width="3.95" height="98.97" fill="#a6314a" stroke="#861c34" stroke-width="0.6"/>
<rect x="117.96" y="641.83" width="3.95" height="1.57" fill="#78ad5c" stroke="#5f9845" stroke-width="0.6"/>
<rect x="124.61" y="630.64" width="3.95" height="12.76" fill="#4a6592" stroke="#2f4b77" stroke-width="0.6"/>
<rect x="131.36" y="548.53" width="3.95" height="94.87" fill="#a6314a" stroke="#861c34" stroke-width="0.6"/>
<rect x="142.89" y="626.91" width="3.95" height="16.49" fill="#78ad5c" stroke="#5f9845" stroke-width="0.6"/>
<rect x="156.29" y="610.11" width="3.95" height="33.29" fill="#a6314a" stroke="#861c34" stroke-width="0.6"/>
<rect x="167.82" y="640.71" width="3.95" height="2.69" fill="#78ad5c" stroke="#5f9845" stroke-width="0.6"/>
<rect x="181.22" y="636.61" width="3.95" height="6.79" fill="#a6314a" stroke="#861c34" stroke-width="0.6"/>
<rect x="192.75" y="640.71" width="3.95" height="2.69" fill="#78ad5c" stroke="#5f9845" stroke-width="0.6"/>
<rect x="206.16" y="637.92" width="3.95" height="5.48" fill="#a6314a" stroke="#861c34" stroke-width="0.6"/>
<rect x="217.69" y="641.83" width="3.95" height="1.57" fill="#78ad5c" stroke="#5f9845" stroke-width="0.6"/>
<rect x="231.09" y="637.92" width="3.95" height="5.48" fill="#a6314a" stroke="#861c34" stroke-width="0.6"/>
<text x="0" y="0" font-size="8.1" fill="#1a1718" stroke="#1a1718" stroke-width="0.12" text-anchor="end" transform="translate(57.00,433.90) rotate(-45)">IL-8</text>
<text x="0" y="0" font-size="8.1" fill="#1a1718" stroke="#1a1718" stroke-width="0.12" text-anchor="end" transform="translate(85.05,433.90) rotate(-45)">CCL2</text>
<text x="0" y="0" font-size="8.1" fill="#1a1718" stroke="#1a1718" stroke-width="0.12" text-anchor="end" transform="translate(113.10,433.90) rotate(-45)">VEGF</text>
<text x="0" y="0" font-size="8.1" fill="#1a1718" stroke="#1a1718" stroke-width="0.12" text-anchor="end" transform="translate(141.15,433.90) rotate(-45)">bFGF</text>
<text x="0" y="0" font-size="8.1" fill="#1a1718" stroke="#1a1718" stroke-width="0.12" text-anchor="end" transform="translate(169.20,433.90) rotate(-45)">PLG</text>
<text x="0" y="0" font-size="8.1" fill="#1a1718" stroke="#1a1718" stroke-width="0.12" text-anchor="end" transform="translate(197.25,433.90) rotate(-45)">Leptin</text>
<text x="0" y="0" font-size="8.1" fill="#1a1718" stroke="#1a1718" stroke-width="0.12" text-anchor="end" transform="translate(225.30,433.90) rotate(-45)">PECAM-1</text>
<text x="0" y="0" font-size="8.1" fill="#1a1718" stroke="#1a1718" stroke-width="0.12" text-anchor="end" transform="translate(317.90,434.00) rotate(-45)">IL-8</text>
<text x="0" y="0" font-size="8.1" fill="#1a1718" stroke="#1a1718" stroke-width="0.12" text-anchor="end" transform="translate(346.15,434.00) rotate(-45)">TIMP-2</text>
<text x="0" y="0" font-size="8.1" fill="#1a1718" stroke="#1a1718" stroke-width="0.12" text-anchor="end" transform="translate(374.40,434.00) rotate(-45)">ANG</text>
<text x="0" y="0" font-size="8.1" fill="#1a1718" stroke="#1a1718" stroke-width="0.12" text-anchor="end" transform="translate(402.65,434.00) rotate(-45)">IFNγ</text>
<text x="0" y="0" font-size="8.1" fill="#1a1718" stroke="#1a1718" stroke-width="0.12" text-anchor="end" transform="translate(430.90,434.00) rotate(-45)">CCL2</text>
<text x="0" y="0" font-size="8.1" fill="#1a1718" stroke="#1a1718" stroke-width="0.12" text-anchor="end" transform="translate(459.15,434.00) rotate(-45)">bFGF</text>
<text x="0" y="0" font-size="8.1" fill="#1a1718" stroke="#1a1718" stroke-width="0.12" text-anchor="end" transform="translate(487.40,434.00) rotate(-45)">Leptin</text>
<text x="0" y="0" font-size="7.7" fill="#1a1718" stroke="#1a1718" stroke-width="0.12" text-anchor="end" transform="translate(54.80,653.80) rotate(-45)">IL-6</text>
<text x="0" y="0" font-size="7.7" fill="#1a1718" stroke="#1a1718" stroke-width="0.12" text-anchor="end" transform="translate(79.73,653.80) rotate(-45)">IL-8</text>
<text x="0" y="0" font-size="7.7" fill="#1a1718" stroke="#1a1718" stroke-width="0.12" text-anchor="end" transform="translate(104.66,653.80) rotate(-45)">CXCL1</text>
<text x="0" y="0" font-size="7.7" fill="#1a1718" stroke="#1a1718" stroke-width="0.12" text-anchor="end" transform="translate(129.59,653.80) rotate(-45)">GM-CSF</text>
<text x="0" y="0" font-size="7.7" fill="#1a1718" stroke="#1a1718" stroke-width="0.12" text-anchor="end" transform="translate(154.52,653.80) rotate(-45)">TIMP-2</text>
<text x="0" y="0" font-size="7.7" fill="#1a1718" stroke="#1a1718" stroke-width="0.12" text-anchor="end" transform="translate(179.45,653.80) rotate(-45)">PECAM-1</text>
<text x="0" y="0" font-size="7.7" fill="#1a1718" stroke="#1a1718" stroke-width="0.12" text-anchor="end" transform="translate(204.38,653.80) rotate(-45)">IL-1b</text>
<text x="0" y="0" font-size="7.7" fill="#1a1718" stroke="#1a1718" stroke-width="0.12" text-anchor="end" transform="translate(229.31,653.80) rotate(-45)">MMP-9</text>
<text x="0" y="0" font-size="9.9" fill="#1a1718" stroke="#1a1718" stroke-width="0.12" textLength="134.30" lengthAdjust="spacingAndGlyphs" transform="translate(17.00,414.00) rotate(-90)">Normalized pixel densitiy (A.U.)</text>
<text x="0" y="0" font-size="9.9" fill="#1a1718" stroke="#1a1718" stroke-width="0.12" textLength="134.30" lengthAdjust="spacingAndGlyphs" transform="translate(278.40,413.90) rotate(-90)">Normalized pixel densitiy (A.U.)</text>
<text x="0" y="0" font-size="9.9" fill="#1a1718" stroke="#1a1718" stroke-width="0.12" textLength="134.30" lengthAdjust="spacingAndGlyphs" transform="translate(21.90,633.80) rotate(-90)">Normalized pixel densitiy (A.U.)</text>
<rect x="93.90" y="283.00" width="12" height="7" fill="#78ad5c" stroke="#5f9845" stroke-width="0.6"/>
<text x="109.60" y="289.10" font-size="8.6" fill="#1a1718" stroke="#1a1718" stroke-width="0.15" text-anchor="start" textLength="33.40" lengthAdjust="spacingAndGlyphs" >TRAP-APR</text>
<rect x="93.90" y="295.40" width="12" height="7" fill="#4a6592" stroke="#2f4b77" stroke-width="0.6"/>
<text x="109.60" y="301.50" font-size="8.6" fill="#1a1718" stroke="#1a1718" stroke-width="0.15" text-anchor="start" textLength="57.90" lengthAdjust="spacingAndGlyphs" >MCF-7 cells alone</text>
<rect x="93.90" y="307.60" width="12" height="7" fill="#a6314a" stroke="#861c34" stroke-width="0.6"/>
<text x="109.60" y="313.70" font-size="8.6" fill="#1a1718" stroke="#1a1718" stroke-width="0.15" text-anchor="start" textLength="62.60" lengthAdjust="spacingAndGlyphs" >MCF-7 + TRAP-APR</text>
<rect x="353.90" y="283.00" width="12" height="7" fill="#78ad5c" stroke="#5f9845" stroke-width="0.6"/>
<text x="369.60" y="289.10" font-size="8.6" fill="#1a1718" stroke="#1a1718" stroke-width="0.15" text-anchor="start" textLength="37.40" lengthAdjust="spacingAndGlyphs" >MCF-7-APR</text>
<rect x="353.90" y="295.40" width="12" height="7" fill="#4a6592" stroke="#2f4b77" stroke-width="0.6"/>
<text x="369.60" y="301.50" font-size="8.6" fill="#1a1718" stroke="#1a1718" stroke-width="0.15" text-anchor="start" textLength="58.70" lengthAdjust="spacingAndGlyphs" >MCF-7 cells alone</text>
<rect x="353.90" y="307.60" width="12" height="7" fill="#a6314a" stroke="#861c34" stroke-width="0.6"/>
<text x="369.60" y="313.70" font-size="8.6" fill="#1a1718" stroke="#1a1718" stroke-width="0.15" text-anchor="start" textLength="67.40" lengthAdjust="spacingAndGlyphs" >MCF-7 + MCF-7-APR</text>
<rect x="70.00" y="494.20" width="12" height="7" fill="#78ad5c" stroke="#5f9845" stroke-width="0.6"/>
<text x="85.70" y="500.30" font-size="8.6" fill="#1a1718" stroke="#1a1718" stroke-width="0.15" text-anchor="start" textLength="61.40" lengthAdjust="spacingAndGlyphs" >MDA-MB-231-APR</text>
<rect x="70.00" y="506.40" width="12" height="7" fill="#4a6592" stroke="#2f4b77" stroke-width="0.6"/>
<text x="85.70" y="512.50" font-size="8.6" fill="#1a1718" stroke="#1a1718" stroke-width="0.15" text-anchor="start" textLength="82.10" lengthAdjust="spacingAndGlyphs" >MDA-MB-231 cells alone</text>
<rect x="70.00" y="518.70" width="12" height="7" fill="#a6314a" stroke="#861c34" stroke-width="0.6"/>
<text x="85.70" y="524.80" font-size="8.6" fill="#1a1718" stroke="#1a1718" stroke-width="0.15" text-anchor="start" textLength="113.10" lengthAdjust="spacingAndGlyphs" >MDA-MB-231+ MDA-MB-231-APR</text>
<line x1="300.50" y1="489.00" x2="300.50" y2="643.90" stroke="#1a1718" stroke-width="1.15" />
<line x1="300.00" y1="643.30" x2="512.60" y2="643.30" stroke="#1a1718" stroke-width="1.3" />
<line x1="297.10" y1="492.10" x2="300.50" y2="492.10" stroke="#1a1718" stroke-width="1.0" />
<text x="293.90" y="495.00" font-size="8.2" fill="#1a1718" stroke="#1a1718" stroke-width="0.15" text-anchor="end" textLength="21.10" lengthAdjust="spacingAndGlyphs" >10000</text>
<line x1="297.10" y1="529.90" x2="300.50" y2="529.90" stroke="#1a1718" stroke-width="1.0" />
<text x="293.90" y="532.80" font-size="8.2" fill="#1a1718" stroke="#1a1718" stroke-width="0.15" text-anchor="end" textLength="16.80" lengthAdjust="spacingAndGlyphs" >7500</text>
<line x1="297.10" y1="567.70" x2="300.50" y2="567.70" stroke="#1a1718" stroke-width="1.0" />
<text x="293.90" y="570.60" font-size="8.2" fill="#1a1718" stroke="#1a1718" stroke-width="0.15" text-anchor="end" textLength="16.80" lengthAdjust="spacingAndGlyphs" >5000</text>
<line x1="297.10" y1="605.50" x2="300.50" y2="605.50" stroke="#1a1718" stroke-width="1.0" />
<text x="293.90" y="608.40" font-size="8.2" fill="#1a1718" stroke="#1a1718" stroke-width="0.15" text-anchor="end" textLength="16.80" lengthAdjust="spacingAndGlyphs" >2500</text>
<line x1="297.10" y1="643.30" x2="300.50" y2="643.30" stroke="#1a1718" stroke-width="1.0" />
<text x="293.90" y="646.20" font-size="8.2" fill="#1a1718" stroke="#1a1718" stroke-width="0.15" text-anchor="end" textLength="4.00" lengthAdjust="spacingAndGlyphs" >0</text>
<text x="0" y="0" font-size="10.2" fill="#1a1718" stroke="#1a1718" stroke-width="0.12" textLength="52.30" lengthAdjust="spacingAndGlyphs" transform="translate(263.70,592.30) rotate(-90)">IL-8 (pg/mL)</text>
<circle cx="307.40" cy="642.40" r="3.2" fill="#a8263c" stroke="#d7909a" stroke-width="0.4"/>
<circle cx="310.40" cy="641.90" r="3.2" fill="#a8263c" stroke="#d7909a" stroke-width="0.4"/>
<circle cx="313.40" cy="643.00" r="3.2" fill="#a8263c" stroke="#d7909a" stroke-width="0.4"/>
<circle cx="316.60" cy="642.30" r="3.2" fill="#a8263c" stroke="#d7909a" stroke-width="0.4"/>
<rect x="327.3" y="573.4" width="15.8" height="69.8" fill="none" stroke="#b5434f" stroke-width="0.9"/>
<line x1="335.30" y1="553.80" x2="335.30" y2="593.30" stroke="#b5434f" stroke-width="1.0" />
<line x1="331.20" y1="553.80" x2="339.60" y2="553.80" stroke="#b5434f" stroke-width="1.0" />
<line x1="331.20" y1="593.30" x2="339.60" y2="593.30" stroke="#b5434f" stroke-width="1.0" />
<circle cx="335.1" cy="501.5" r="2.85" fill="#a8263c"/>
<circle cx="335.3" cy="566.2" r="2.85" fill="#a8263c"/>
<circle cx="335.3" cy="585.4" r="2.85" fill="#a8263c"/>
<circle cx="339.4" cy="605.7" r="2.85" fill="#a8263c"/>
<circle cx="331.5" cy="610.2" r="2.85" fill="#a8263c"/>
<g stroke="#3d5a8a" stroke-width="0.9" fill="none"><rect x="351.6" y="640.0" width="14.8" height="6.2"/><line x1="355.3" y1="640" x2="355.3" y2="646.2"/><line x1="359.0" y1="640" x2="359.0" y2="646.2"/><line x1="362.7" y1="640" x2="362.7" y2="646.2"/><line x1="351.6" y1="643.1" x2="366.4" y2="643.1"/></g>
<rect x="374.4" y="621.3" width="16.2" height="21.9" fill="none" stroke="#3d5a8a" stroke-width="0.9"/>
<line x1="382.50" y1="614.00" x2="382.50" y2="628.70" stroke="#3d5a8a" stroke-width="0.9" />
<line x1="378.20" y1="628.70" x2="387.00" y2="628.70" stroke="#3d5a8a" stroke-width="0.9" />
<rect x="383.60" y="597.90" width="6.0" height="6.0" fill="#3d5a8a"/>
<rect x="375.80" y="605.00" width="6.0" height="6.0" fill="#3d5a8a"/>
<rect x="375.80" y="614.00" width="6.0" height="6.0" fill="#3d5a8a"/>
<rect x="383.80" y="614.00" width="6.0" height="6.0" fill="#3d5a8a"/>
<rect x="375.70" y="639.30" width="6.0" height="6.0" fill="#3d5a8a"/>
<rect x="383.70" y="639.30" width="6.0" height="6.0" fill="#3d5a8a"/>
<polygon points="402.80,640.40 405.80,646.25 399.80,646.25" fill="#64a44a"/>
<polygon points="404.80,640.40 407.80,646.25 401.80,646.25" fill="#64a44a"/>
<polygon points="406.30,640.40 409.30,646.25 403.30,646.25" fill="#64a44a"/>
<polygon points="407.80,640.40 410.80,646.25 404.80,646.25" fill="#64a44a"/>
<polygon points="409.80,640.40 412.80,646.25 406.80,646.25" fill="#64a44a"/>
<rect x="421.5" y="627.0" width="15.8" height="16.2" fill="none" stroke="#64a44a" stroke-width="0.9"/>
<line x1="429.40" y1="619.50" x2="429.40" y2="634.00" stroke="#64a44a" stroke-width="0.9" />
<line x1="425.30" y1="619.50" x2="433.90" y2="619.50" stroke="#64a44a" stroke-width="0.9" />
<line x1="425.30" y1="634.00" x2="433.90" y2="634.00" stroke="#64a44a" stroke-width="0.9" />
<polygon points="425.60,600.00 428.60,605.85 422.60,605.85" fill="#64a44a"/>
<polygon points="433.70,596.80 436.70,602.65 430.70,602.65" fill="#64a44a"/>
<polygon points="429.40,620.20 432.40,626.05 426.40,626.05" fill="#64a44a"/>
<polygon points="425.30,638.50 428.30,644.35 422.30,644.35" fill="#64a44a"/>
<polygon points="428.50,639.80 431.50,645.65 425.50,645.65" fill="#64a44a"/>
<polygon points="431.50,639.20 434.50,645.05 428.50,645.05" fill="#64a44a"/>
<polygon points="434.00,636.80 437.00,642.65 431.00,642.65" fill="#64a44a"/>
<polygon points="436.00,638.80 439.00,644.65 433.00,644.65" fill="#64a44a"/>
<polygon points="450.60,639.90 453.90,643.20 450.60,646.50 447.30,643.20" fill="#6a3a78"/>
<polygon points="452.60,639.90 455.90,643.20 452.60,646.50 449.30,643.20" fill="#6a3a78"/>
<polygon points="454.20,639.90 457.50,643.20 454.20,646.50 450.90,643.20" fill="#6a3a78"/>
<polygon points="456.00,639.90 459.30,643.20 456.00,646.50 452.70,643.20" fill="#6a3a78"/>
<rect x="468.2" y="634.1" width="16.1" height="9.1" fill="none" stroke="#6a3a78" stroke-width="0.8"/>
<line x1="476.80" y1="629.00" x2="476.80" y2="640.00" stroke="#6a3a78" stroke-width="0.8" />
<line x1="473.00" y1="630.20" x2="480.60" y2="630.20" stroke="#6a3a78" stroke-width="0.8" />
<polygon points="476.80,613.60 480.00,616.80 476.80,620.00 473.60,616.80" fill="#6a3a78"/>
<polygon points="472.00,628.50 475.20,631.70 472.00,634.90 468.80,631.70" fill="#6a3a78"/>
<polygon points="481.40,628.30 484.60,631.50 481.40,634.70 478.20,631.50" fill="#6a3a78"/>
<polygon points="481.20,632.80 484.40,636.00 481.20,639.20 478.00,636.00" fill="#6a3a78"/>
<polygon points="472.50,637.30 475.70,640.50 472.50,643.70 469.30,640.50" fill="#6a3a78"/>
<polygon points="475.50,637.60 478.70,640.80 475.50,644.00 472.30,640.80" fill="#6a3a78"/>
<polygon points="478.50,637.30 481.70,640.50 478.50,643.70 475.30,640.50" fill="#6a3a78"/>
<polygon points="501.03,644.27 498.10,644.27 497.58,647.01 496.11,644.61 493.35,645.54 494.81,643.13 492.57,641.33 495.50,641.33 496.02,638.59 497.49,640.99 500.25,640.06 498.79,642.47" fill="#de9a37"/>
<polygon points="504.43,644.27 501.50,644.27 500.98,647.01 499.51,644.61 496.75,645.54 498.21,643.13 495.97,641.33 498.90,641.33 499.42,638.59 500.89,640.99 503.65,640.06 502.19,642.47" fill="#de9a37"/>
<polygon points="507.63,644.27 504.70,644.27 504.18,647.01 502.71,644.61 499.95,645.54 501.41,643.13 499.17,641.33 502.10,641.33 502.62,638.59 504.09,640.99 506.85,640.06 505.39,642.47" fill="#de9a37"/>
<text x="310.70" y="531.20" font-size="8.8" fill="#1a1718" stroke="#1a1718" stroke-width="0.15" text-anchor="start" textLength="25.60" lengthAdjust="spacingAndGlyphs" >P = 0.01</text>
<line x1="311.50" y1="536.10" x2="335.80" y2="536.10" stroke="#6b6b6b" stroke-width="1.3" />
<text x="359.70" y="550.50" font-size="8.8" fill="#1a1718" stroke="#1a1718" stroke-width="0.15" text-anchor="start" textLength="26.00" lengthAdjust="spacingAndGlyphs" >P = 0.01</text>
<line x1="360.50" y1="555.90" x2="385.20" y2="555.90" stroke="#6b6b6b" stroke-width="1.3" />
<text x="404.70" y="570.70" font-size="8.8" fill="#1a1718" stroke="#1a1718" stroke-width="0.15" text-anchor="start" textLength="26.50" lengthAdjust="spacingAndGlyphs" >P = 0.09</text>
<line x1="405.50" y1="576.00" x2="430.70" y2="576.00" stroke="#6b6b6b" stroke-width="1.3" />
<text x="453.40" y="590.50" font-size="8.8" fill="#1a1718" stroke="#1a1718" stroke-width="0.15" text-anchor="start" textLength="26.40" lengthAdjust="spacingAndGlyphs" >P = 0.01</text>
<line x1="454.20" y1="595.40" x2="479.30" y2="595.40" stroke="#6b6b6b" stroke-width="1.3" />
<text x="263.10" y="657.00" font-size="8.6" fill="#1a1718" stroke="#1a1718" stroke-width="0.15" text-anchor="start" textLength="30.00" lengthAdjust="spacingAndGlyphs" >Platelets</text>
<text x="312.00" y="657.60" font-size="8.6" fill="#1a1718" stroke="#1a1718" stroke-width="0.15" text-anchor="middle" >-</text>
<text x="335.30" y="657.60" font-size="8.6" fill="#1a1718" stroke="#1a1718" stroke-width="0.15" text-anchor="middle" >+</text>
<text x="359.30" y="657.60" font-size="8.6" fill="#1a1718" stroke="#1a1718" stroke-width="0.15" text-anchor="middle" >-</text>
<text x="381.90" y="657.60" font-size="8.6" fill="#1a1718" stroke="#1a1718" stroke-width="0.15" text-anchor="middle" >+</text>
<text x="406.40" y="657.60" font-size="8.6" fill="#1a1718" stroke="#1a1718" stroke-width="0.15" text-anchor="middle" >-</text>
<text x="429.40" y="657.60" font-size="8.6" fill="#1a1718" stroke="#1a1718" stroke-width="0.15" text-anchor="middle" >+</text>
<text x="453.40" y="657.60" font-size="8.6" fill="#1a1718" stroke="#1a1718" stroke-width="0.15" text-anchor="middle" >-</text>
<text x="476.60" y="657.60" font-size="8.6" fill="#1a1718" stroke="#1a1718" stroke-width="0.15" text-anchor="middle" >+</text>
<text x="499.90" y="657.60" font-size="8.6" fill="#1a1718" stroke="#1a1718" stroke-width="0.15" text-anchor="middle" >+</text>
<line x1="310.50" y1="662.30" x2="337.90" y2="662.30" stroke="#1a1718" stroke-width="1.0" />
<line x1="358.00" y1="662.30" x2="385.10" y2="662.30" stroke="#1a1718" stroke-width="1.0" />
<line x1="405.20" y1="662.30" x2="431.90" y2="662.30" stroke="#1a1718" stroke-width="1.0" />
<line x1="452.30" y1="662.30" x2="479.40" y2="662.30" stroke="#1a1718" stroke-width="1.0" />
<line x1="492.10" y1="662.30" x2="509.00" y2="662.30" stroke="#1a1718" stroke-width="1.0" />
<text x="300.50" y="672.80" font-size="8.6" fill="#1a1718" stroke="#1a1718" stroke-width="0.15" text-anchor="start" textLength="47.30" lengthAdjust="spacingAndGlyphs" >MDA-MB-231</text>
<text x="361.80" y="672.80" font-size="8.6" fill="#1a1718" stroke="#1a1718" stroke-width="0.15" text-anchor="start" textLength="20.40" lengthAdjust="spacingAndGlyphs" >BT-20</text>
<text x="406.90" y="672.80" font-size="8.6" fill="#1a1718" stroke="#1a1718" stroke-width="0.15" text-anchor="start" textLength="23.70" lengthAdjust="spacingAndGlyphs" >MCF-7</text>
<text x="453.40" y="672.80" font-size="8.6" fill="#1a1718" stroke="#1a1718" stroke-width="0.15" text-anchor="start" textLength="25.40" lengthAdjust="spacingAndGlyphs" >SKBR-3</text>
</svg>
</body></html>
